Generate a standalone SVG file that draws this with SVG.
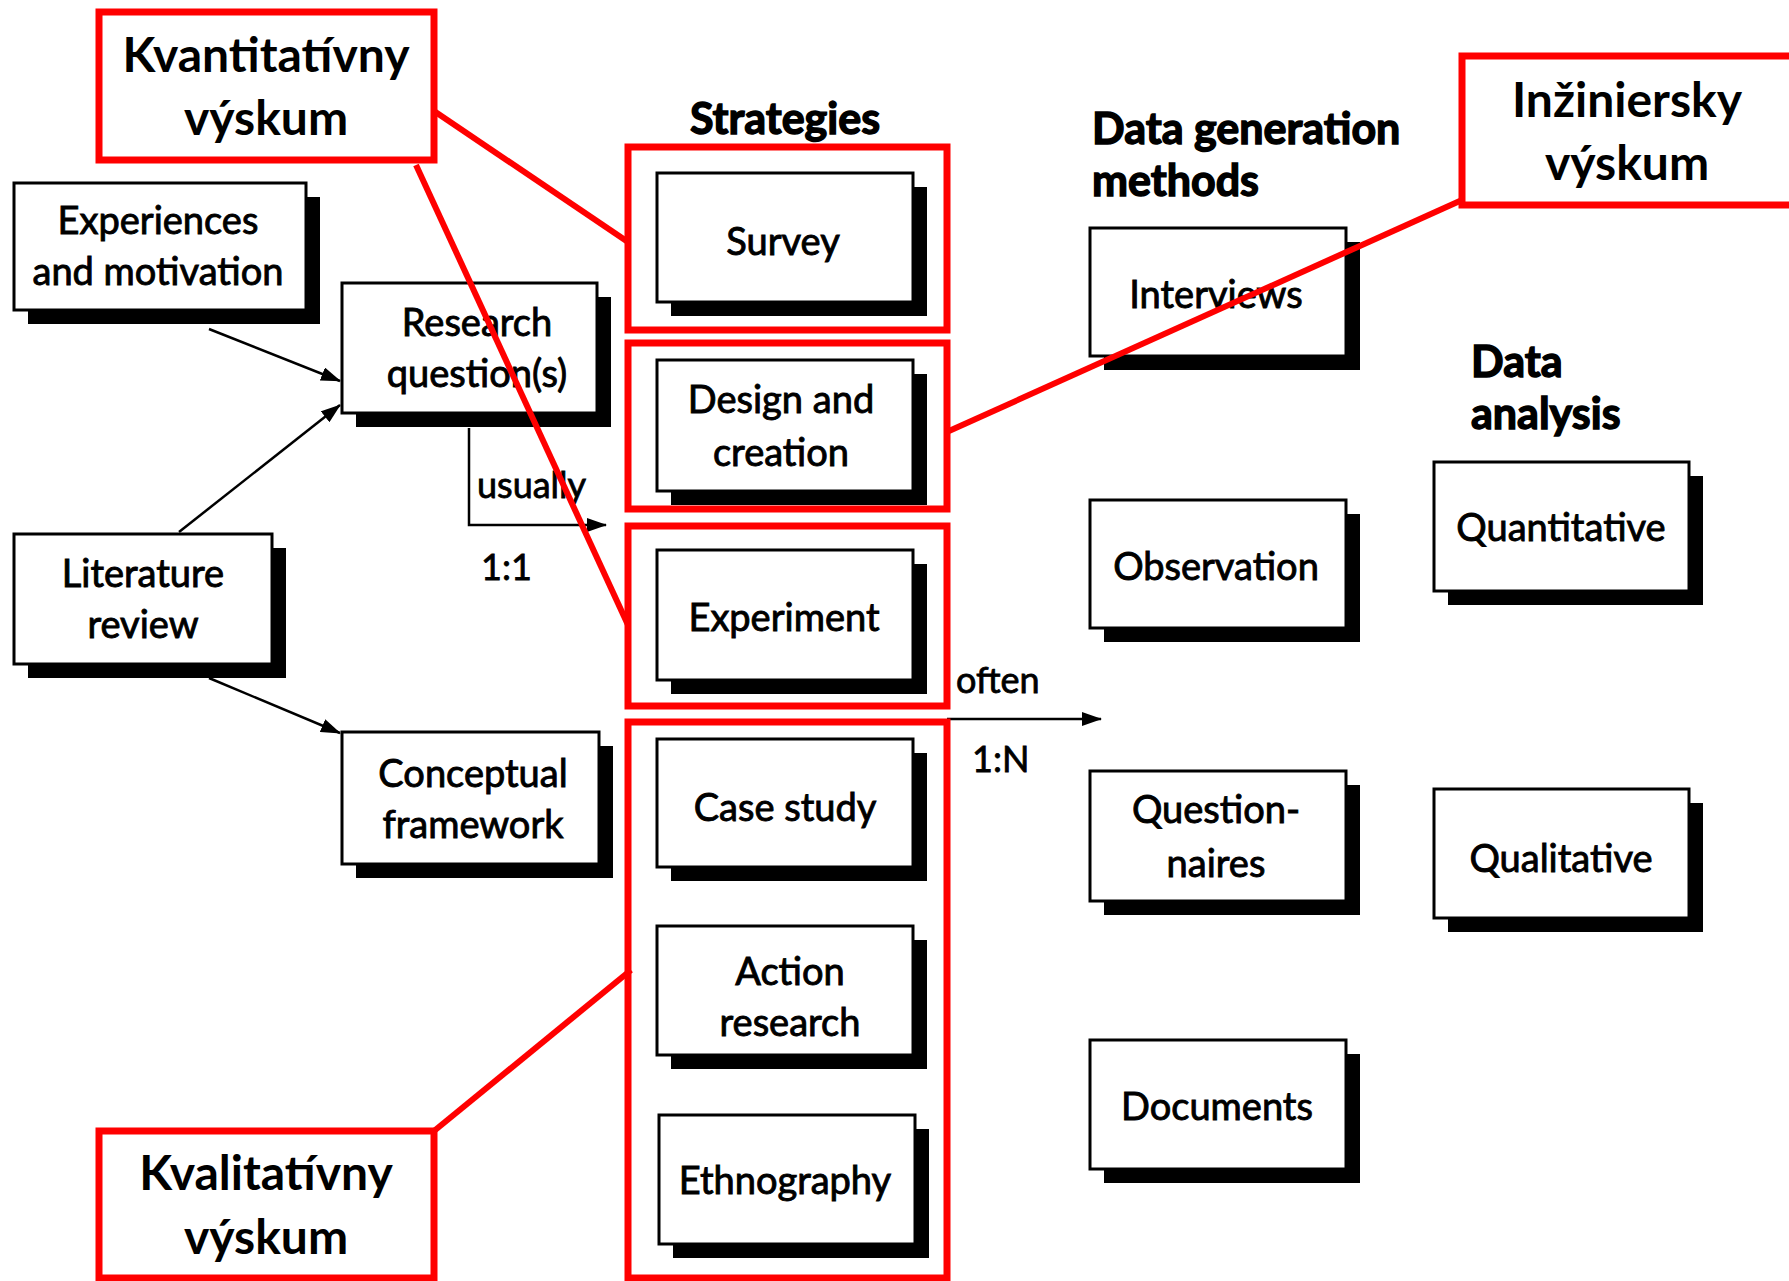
<svg xmlns="http://www.w3.org/2000/svg" width="1789" height="1281" viewBox="0 0 1789 1281">
  <style>
    .shadow { fill: #000; }
    .box { fill: #fff; stroke: #000; stroke-width: 3; }
    .lbl { font-family: Lato, "Open Sans", sans-serif; font-size: 38px; fill: #000; stroke: #000; stroke-width: 0.9; text-anchor: middle; }
    .head { font-family: Lato, "Open Sans", sans-serif; font-size: 43px; font-weight: bold; fill: #000; stroke: #000; stroke-width: 1.4; }
    .note { font-family: Lato, "Open Sans", sans-serif; font-size: 36px; fill: #000; stroke: #000; stroke-width: 0.8; }
    .conn { stroke: #000; stroke-width: 2.5; fill: none; }
    .rbox { fill: none; stroke: #ff0000; stroke-width: 7; }
    .rcall { fill: #fff; stroke: #ff0000; stroke-width: 7; }
    .rline { stroke: #ff0000; stroke-width: 6; fill: none; }
    .rtxt { font-family: Lato, "Noto Sans", sans-serif; font-size: 48px; font-weight: bold; fill: #000; text-anchor: middle; }
  </style>
  <defs>
    <marker id="arrow" viewBox="0 0 20 14" refX="19" refY="7" markerWidth="20" markerHeight="14" markerUnits="userSpaceOnUse" orient="auto">
      <path d="M0,0 L20,7 L0,14 Z" fill="#000"/>
    </marker>
  </defs>

  <rect width="1789" height="1281" fill="#fff"/>

  <!-- column headings -->
  <text class="head" x="785" y="134" text-anchor="middle">Strategies</text>
  <text class="head" x="1092" y="144">Data generation</text>
  <text class="head" x="1092" y="196">methods</text>
  <text class="head" x="1471" y="377">Data</text>
  <text class="head" x="1471" y="429">analysis</text>

  <!-- connectors -->
  <g id="connectors">
    <line class="conn" x1="209" y1="329" x2="340" y2="381" marker-end="url(#arrow)"/>
    <line class="conn" x1="179" y1="532" x2="340" y2="405" marker-end="url(#arrow)"/>
    <line class="conn" x1="209" y1="678" x2="340" y2="733" marker-end="url(#arrow)"/>
    <polyline class="conn" points="469,428 469,525 606,525" marker-end="url(#arrow)"/>
    <line class="conn" x1="947" y1="719" x2="1101" y2="719" marker-end="url(#arrow)"/>
    <text class="note" x="477" y="498">usually</text>
    <text class="note" x="481" y="580">1:1</text>
    <text class="note" x="956" y="693">often</text>
    <text class="note" x="972" y="772">1:N</text>
  </g>

  <!-- inputs -->
  <g id="experiences">
    <rect class="shadow" x="28" y="197" width="292" height="127"/>
    <rect class="box" x="14" y="183" width="292" height="127"/>
    <text class="lbl" x="158" y="234">Experiences</text>
    <text class="lbl" x="158" y="285">and motivation</text>
  </g>
  <g id="research-questions">
    <rect class="shadow" x="356" y="297" width="255" height="130"/>
    <rect class="box" x="342" y="283" width="255" height="130"/>
    <text class="lbl" x="477" y="336">Research</text>
    <text class="lbl" x="477" y="387">question(s)</text>
  </g>
  <g id="literature-review">
    <rect class="shadow" x="28" y="548" width="258" height="130"/>
    <rect class="box" x="14" y="534" width="258" height="130"/>
    <text class="lbl" x="143" y="587">Literature</text>
    <text class="lbl" x="143" y="638">review</text>
  </g>
  <g id="conceptual-framework">
    <rect class="shadow" x="356" y="746" width="257" height="132"/>
    <rect class="box" x="342" y="732" width="257" height="132"/>
    <text class="lbl" x="473" y="787">Conceptual</text>
    <text class="lbl" x="473" y="838">framework</text>
  </g>

  <!-- strategies -->
  <g id="survey">
    <rect class="shadow" x="671" y="187" width="256" height="129"/>
    <rect class="box" x="657" y="173" width="256" height="129"/>
    <text class="lbl" x="783" y="255">Survey</text>
  </g>
  <g id="design-and-creation">
    <rect class="shadow" x="671" y="374" width="256" height="131"/>
    <rect class="box" x="657" y="360" width="256" height="131"/>
    <text class="lbl" x="781" y="413">Design and</text>
    <text class="lbl" x="781" y="466">creation</text>
  </g>
  <g id="experiment">
    <rect class="shadow" x="671" y="564" width="256" height="130"/>
    <rect class="box" x="657" y="550" width="256" height="130"/>
    <text class="lbl" x="784" y="631">Experiment</text>
  </g>
  <g id="case-study">
    <rect class="shadow" x="671" y="753" width="256" height="128"/>
    <rect class="box" x="657" y="739" width="256" height="128"/>
    <text class="lbl" x="785" y="821">Case study</text>
  </g>
  <g id="action-research">
    <rect class="shadow" x="671" y="940" width="256" height="129"/>
    <rect class="box" x="657" y="926" width="256" height="129"/>
    <text class="lbl" x="790" y="985">Action</text>
    <text class="lbl" x="790" y="1036">research</text>
  </g>
  <g id="ethnography">
    <rect class="shadow" x="673" y="1129" width="256" height="129"/>
    <rect class="box" x="659" y="1115" width="256" height="129"/>
    <text class="lbl" x="785" y="1194">Ethnography</text>
  </g>

  <!-- data generation methods -->
  <g id="interviews">
    <rect class="shadow" x="1104" y="242" width="256" height="128"/>
    <rect class="box" x="1090" y="228" width="256" height="128"/>
    <text class="lbl" x="1216" y="308">Interviews</text>
  </g>
  <g id="observation">
    <rect class="shadow" x="1104" y="514" width="256" height="128"/>
    <rect class="box" x="1090" y="500" width="256" height="128"/>
    <text class="lbl" x="1216" y="580">Observation</text>
  </g>
  <g id="questionnaires">
    <rect class="shadow" x="1104" y="785" width="256" height="130"/>
    <rect class="box" x="1090" y="771" width="256" height="130"/>
    <text class="lbl" x="1216" y="823">Question-</text>
    <text class="lbl" x="1216" y="877">naires</text>
  </g>
  <g id="documents">
    <rect class="shadow" x="1104" y="1054" width="256" height="129"/>
    <rect class="box" x="1090" y="1040" width="256" height="129"/>
    <text class="lbl" x="1217" y="1120">Documents</text>
  </g>

  <!-- data analysis -->
  <g id="quantitative">
    <rect class="shadow" x="1448" y="476" width="255" height="129"/>
    <rect class="box" x="1434" y="462" width="255" height="129"/>
    <text class="lbl" x="1561" y="541">Quantitative</text>
  </g>
  <g id="qualitative">
    <rect class="shadow" x="1448" y="803" width="255" height="129"/>
    <rect class="box" x="1434" y="789" width="255" height="129"/>
    <text class="lbl" x="1561" y="872">Qualitative</text>
  </g>

  <!-- research-type groupings -->
  <g id="groups">
    <rect class="rbox" x="628" y="147" width="319" height="183"/>
    <rect class="rbox" x="628" y="343" width="319" height="166"/>
    <rect class="rbox" x="628" y="526" width="319" height="180"/>
    <rect class="rbox" x="628" y="722" width="319" height="556"/>
  </g>

  <g id="callout-lines">
    <line class="rline" x1="434" y1="111" x2="628" y2="242"/>
    <line class="rline" x1="416" y1="165" x2="628" y2="625"/>
    <line class="rline" x1="1462" y1="200" x2="949" y2="431"/>
    <line class="rline" x1="434" y1="1131" x2="631" y2="970"/>
  </g>

  <g id="quantitative-research">
    <rect class="rcall" x="99" y="12" width="335" height="148"/>
    <text class="rtxt" x="266" y="72">Kvantitatívny</text>
    <text class="rtxt" x="266" y="135">výskum</text>
  </g>
  <g id="engineering-research">
    <rect class="rcall" x="1462" y="56" width="335" height="149"/>
    <text class="rtxt" x="1627" y="117">Inžiniersky</text>
    <text class="rtxt" x="1627" y="180">výskum</text>
  </g>
  <g id="qualitative-research">
    <rect class="rcall" x="99" y="1131" width="335" height="147"/>
    <text class="rtxt" x="266" y="1190">Kvalitatívny</text>
    <text class="rtxt" x="266" y="1254">výskum</text>
  </g>
</svg>
